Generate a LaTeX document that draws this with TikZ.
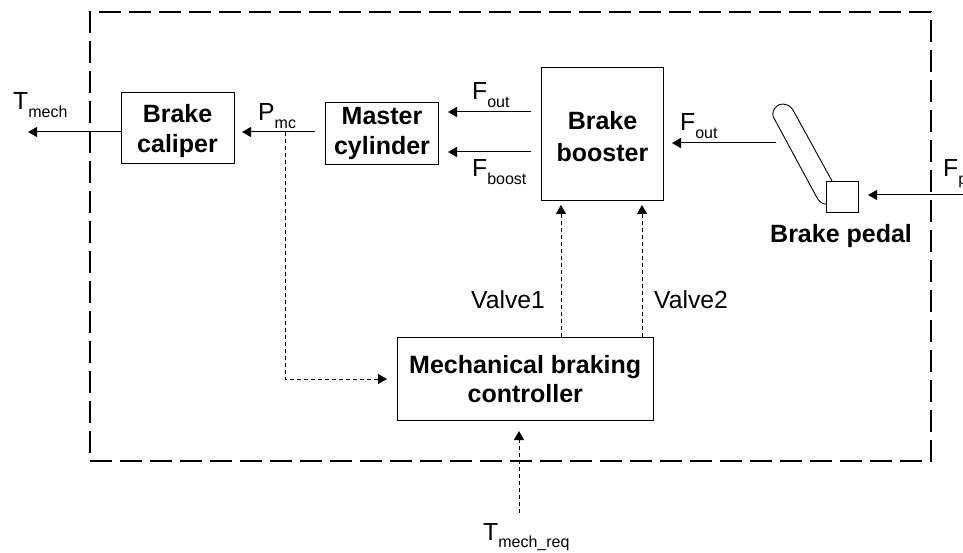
\documentclass[tikz,border=0pt]{standalone}
\usepackage{fontspec}
\setmainfont{Liberation Sans}
\usetikzlibrary{arrows.meta}
\tikzset{
  blockbox/.style={draw,line width=1pt,inner sep=0pt,anchor=north west,align=center,font=\fontsize{25}{29.5}\selectfont\bfseries},
  lab/.style={inner sep=0pt,anchor=base west,font=\fontsize{24.7}{25}\selectfont},
  capt/.style={inner sep=0pt,anchor=base west,font=\fontsize{25}{25}\selectfont\bfseries},
  sig/.style={line width=1pt,-{Triangle[length=9pt,width=10pt]}},
  ctl/.style={line width=1pt,dash pattern=on 4pt off 3pt,-{Triangle[length=9pt,width=10pt]}},
  frameline/.style={line width=2.4pt,dash pattern=on 22pt off 8pt}
}
\newcommand{\subl}[2]{#1\raisebox{-7.5pt}{\fontsize{16}{16}\selectfont #2}}
\newcommand{\lowr}[2]{\raisebox{-#1}[\height][\depth]{#2}}
\begin{document}
\begin{tikzpicture}[x=1pt,y=-1pt]
\useasboundingbox (0,0) rectangle (963,553);
\clip (0,0) rectangle (963,553);
\node[draw,frameline,anchor=north west,minimum width=841pt,minimum height=449pt,inner sep=0pt] (frameBox) at (89,11) {};
\node[blockbox,minimum width=113pt,minimum height=71pt] (caliper) at (120.5,92) {\lowr{3pt}{Brake}\\\lowr{3pt}{caliper}};
\node[blockbox,minimum width=113pt,minimum height=62pt] (master) at (325,102) {Master\\cylinder};
\node[blockbox,minimum width=122pt,minimum height=133pt] (booster) at (541,67) {\lowr{1pt}{Brake}\\\lowr{3.5pt}{booster}};
\node[blockbox,minimum width=255.5pt,minimum height=83pt] (ctrl) at (397,337) {Mechanical braking\\controller};
\node[draw,line width=1pt,minimum size=31.5pt,inner sep=0pt,anchor=north west] (foot) at (826,181) {};
\draw[line width=0.9pt] (832,181) -- (793,110) .. controls (788,102) and (778,103) .. (775,108) .. controls (772,112) and (772,116) .. (775,120) -- (816,196) .. controls (819,202) and (822,204) .. (826,204);
\node[capt] (pedalname) at (770,243) {Brake pedal};
% signal coordinates
\coordinate (tmechEnd) at (28,132);
\coordinate (fpStart) at (975,195);
\coordinate (pedalOut) at (776,143);
\coordinate (pmcTap) at (285,132);
\coordinate (dashCorner) at (285,379);
\coordinate (reqStart) at (519,513);
% arrows
\draw[sig] (caliper.west |- tmechEnd) -- (tmechEnd);
\draw[sig] (315,132) -- (242,132);
\draw[sig] (531,112) -- (448,112);
\draw[sig] (531,152) -- (448,152);
\draw[sig] (pedalOut) -- (672,143);
\draw[sig] (fpStart) -- (868,195);
\draw[ctl] (pmcTap) -- (dashCorner) -- (387,379);
\draw[ctl] (561,337) -- (561,205);
\draw[ctl] (642,337) -- (642,205);
\draw[ctl] (reqStart) -- (519,431);
% labels
\node[lab] (lTmech) at (13,110) {\subl{T}{mech}};
\node[lab] (lPmc) at (258,121) {\subl{P}{mc}};
\node[lab] (lFout1) at (472,100) {\subl{F}{out}};
\node[lab] (lFboost) at (472,177) {\subl{F}{boost}};
\node[lab] (lFout2) at (680,131) {\subl{F}{out}};
\node[lab] (lFp) at (943,177) {\subl{F}{p}};
\node[lab] (lV1) at (471,308) {Valve1};
\node[lab] (lV2) at (654,308) {Valve2};
\node[lab] (lReq) at (483,540) {\subl{T}{mech\_req}};
\end{tikzpicture}
\end{document}
